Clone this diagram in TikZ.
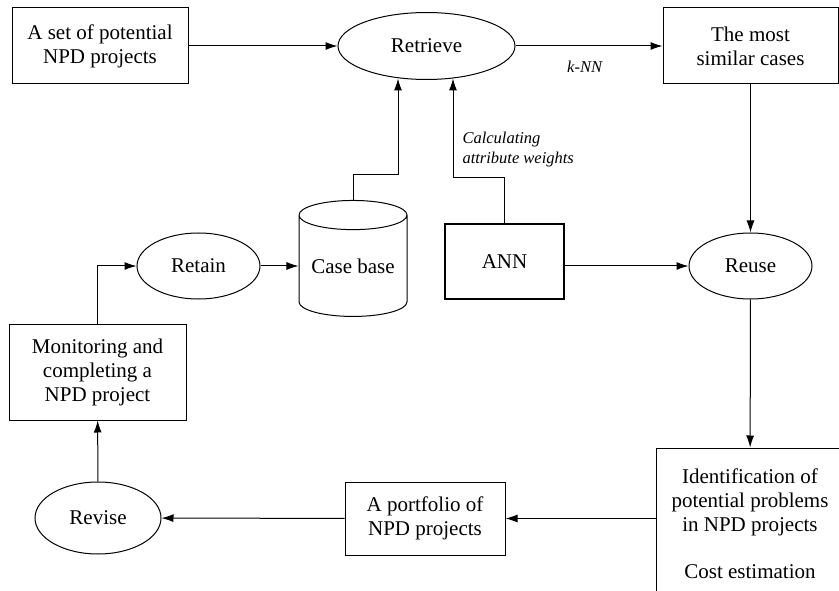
\documentclass[tikz,border=0pt]{standalone}
\usepackage{fontspec}
\setmainfont{Liberation Serif}
\usepackage{tikz}
\usetikzlibrary{arrows.meta,shapes.geometric}
\tikzstyle{stepbox} = [draw, rectangle, align=center, inner sep=0pt]
\tikzstyle{phase} = [draw, ellipse, inner sep=0pt]
\tikzstyle{store} = [draw, cylinder, shape border rotate=90, aspect=0.35, inner sep=0pt]
\tikzstyle{edgelabel} = [font={\fontsize{16.5}{20}\selectfont\itshape}, align=left, inner sep=0pt]
\tikzset{font={\fontsize{21}{24}\selectfont}}

\begin{document}
\begin{tikzpicture}[x=1pt, y=-1pt, line width=1pt, >={Latex[length=12pt,width=8pt]}]
  \useasboundingbox (0,0) rectangle (839,591);
  \clip (0,0) rectangle (839,591);

  % retrieve row
  \node[at={(100,46)}, stepbox, minimum width=176, minimum height=76] (potential) {A set of potential\\NPD projects};
  \node[at={(426.5,46)}, phase, minimum width=177, minimum height=67] (retrieve) {Retrieve};
  \node[at={(750.5,46)}, stepbox, minimum width=175, minimum height=76] (similar) {The most\\similar cases};

  % middle row
  \node[at={(198.5,266)}, phase, minimum width=123, minimum height=66] (retain) {Retain};
  \node[at={(353,266)}, store, minimum width=108, minimum height=116] (casebase) {Case base};
  \node[at={(504.5,261.5)}, stepbox, line width=1.8pt, minimum width=119, minimum height=75] (ann) {ANN};
  \node[at={(750.5,266)}, phase, minimum width=123, minimum height=66] (reuse) {Reuse};
  \node[at={(97.5,372)}, stepbox, minimum width=177, minimum height=96] (monitor) {Monitoring and\\completing a\\NPD project};

  % bottom row
  \node[at={(98,518)}, phase, minimum width=126, minimum height=72] (revise) {Revise};
  \node[at={(425,518.5)}, stepbox, minimum width=160, minimum height=73] (portfolio) {A portfolio of\\NPD projects};
  \node[at={(750,523.5)}, stepbox, minimum width=188, minimum height=151] (ident) {Identification of\\potential problems\\in NPD projects\\[23pt]Cost estimation};

  \node[at={(462,150)}, anchor=west, edgelabel] (weights) {Calculating\\attribute weights};

  \draw[->] (potential) -- (retrieve);
  \draw[->] (retrieve) -- node[pos=0.47, below=15pt, edgelabel] (knn) {k-NN} (similar);
  \draw[->] (casebase.north) -- ++(0,-25) -| ([xshift=-28.5pt, yshift=1.5pt]retrieve.south);
  \draw[->] (ann.north) -- ++(0,-46) -| ([xshift=26.5pt, yshift=1.5pt]retrieve.south);
  \draw[->] (similar) -- (reuse);
  \draw[->] (ann.east |- reuse) -- (reuse);
  \draw[->] (reuse) -- (ident);
  \draw[->] (ident.west |- portfolio) -- (portfolio);
  \draw[->] (portfolio) -- (revise);
  \draw[->] (revise) -- (monitor);
  \draw[->] (monitor.north) |- (retain);
  \draw[->] (retain) -- (retain -| casebase.west);
\end{tikzpicture}
\end{document}
